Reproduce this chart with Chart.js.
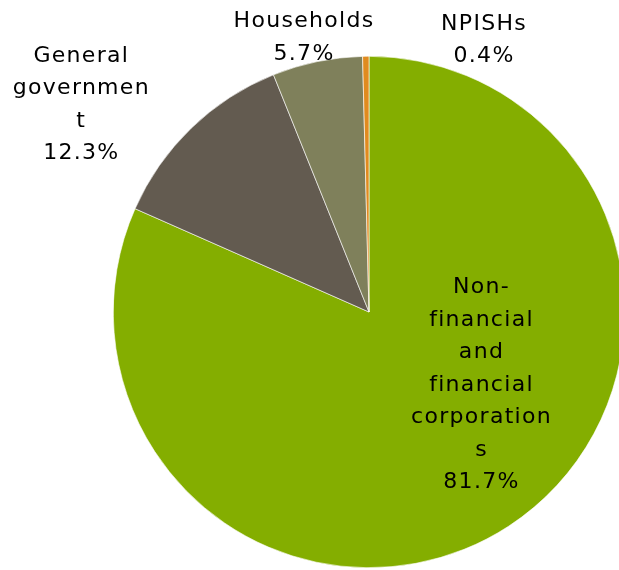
<!DOCTYPE html>
<html>
<head>
<meta charset="utf-8">
<script src="https://cdn.jsdelivr.net/npm/chart.js@4/dist/chart.umd.min.js"></script>
<style>
  html, body { margin: 0; padding: 0; background: #fff; overflow: hidden; }
  #wrap { position: absolute; left: 0; top: 0; width: 640px; height: 570px; }
</style>
</head>
<body>
<div id="wrap"><canvas id="pie"></canvas></div>
<script>
// Sector shares (%), clockwise from 12 o'clock
var sectors = ['Non-financial and financial corporations', 'General government', 'Households', 'NPISHs'];
var shares = [81.7, 12.3, 5.7, 0.4];
var sliceColors = ['#84ae00', '#635b50', '#7f805b', '#e08b1f'];

// Label text as wrapped in the original, plus anchor in units of the radius
var labelLines = [
    ['Non-', 'financial', 'and', 'financial', 'corporation', 's', '81.7%'],
    ['General', 'governmen', 't', '12.3%'],
    ['Households', '5.7%'],
    ['NPISHs', '0.4%']
];
var labelAnchors = [[0.44, 0.285], [-1.125, -0.81], [-0.254, -1.073], [0.45, -1.063]];

var sliceLabels = {
    id: 'sliceLabels',
    afterDatasetsDraw: function(chart) {
        var ctx = chart.ctx;
        var arc = chart.getDatasetMeta(0).data[0];
        var r = arc.outerRadius;
        var lineH = 32.5;
        ctx.save();
        ctx.font = '22px "DejaVu Sans"';
        ctx.letterSpacing = '1.3px';
        ctx.fillStyle = '#000';
        ctx.textAlign = 'center';
        ctx.textBaseline = 'middle';
        labelLines.forEach(function(lines, i) {
            var cx = arc.x + labelAnchors[i][0] * r;
            var cy = arc.y + labelAnchors[i][1] * r;
            var top = cy - (lines.length - 1) * lineH / 2;
            lines.forEach(function(txt, j) {
                ctx.fillText(txt, cx, top + j * lineH);
            });
        });
        ctx.restore();
    }
};

new Chart(document.getElementById('pie'), {
    type: 'pie',
    data: {
        labels: sectors,
        datasets: [{
            data: shares,
            backgroundColor: sliceColors,
            borderColor: '#ffffff',
            borderWidth: 0.6
        }]
    },
    options: {
        responsive: true,
        maintainAspectRatio: false,
        animation: false,
        layout: { padding: { left: 113, right: 15, top: 56, bottom: 2 } },
        plugins: {
            legend: { display: false },
            tooltip: { enabled: false }
        }
    },
    plugins: [sliceLabels]
});
</script>
</body>
</html>
